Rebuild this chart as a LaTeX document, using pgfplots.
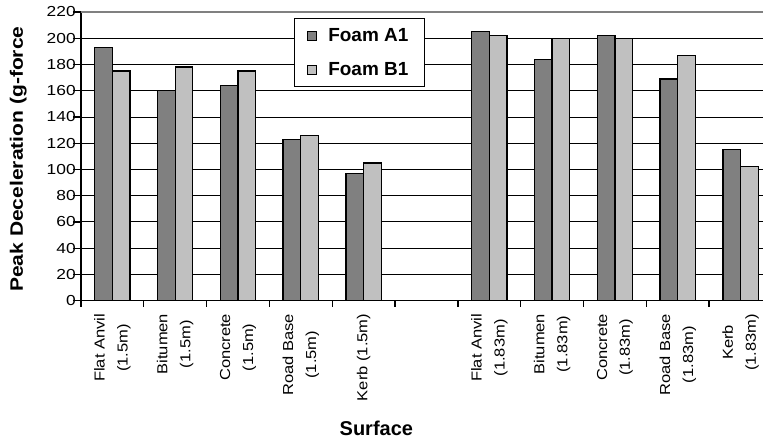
\documentclass[border=0pt]{standalone}
\usepackage{fontspec}
\setmainfont{Liberation Sans}
\newfontfamily\ylfont[FakeStretch=1.17]{Liberation Sans}
\newfontfamily\xtfont[FakeStretch=1.14]{Liberation Sans}
\newfontfamily\ytfont[FakeStretch=1.2]{Liberation Sans}
\usepackage{pgfplots}
\pgfplotsset{compat=1.18}
\definecolor{darkbar}{HTML}{808080}
\definecolor{lightbar}{HTML}{C0C0C0}
\begin{document}
\begin{tikzpicture}
\begin{axis}[
  at={(0,0)}, anchor=south west,
  scale only axis,
  width=683pt, height=289pt,
  xmin=-0.5, xmax=10.36,
  ymin=0, ymax=220,
  ybar=0pt, bar width=17.7pt,
  axis x line*=bottom, axis y line*=left,
  axis line style={line width=1.6pt, -},
  ytick={0,20,...,220},
  ymajorgrids,
  major grid style={black, line width=0.9pt},
  extra y ticks={180,200},
  extra y tick labels={},
  extra y tick style={grid style={black, line width=1.9pt}},
  xtick={0,...,10},
  xticklabels={{Flat Anvil\\(1.5m)},{Bitumen\\(1.5m)},{Concrete\\(1.5m)},{Road Base\\(1.5m)},{Kerb (1.5m)},{},{Flat Anvil\\(1.83m)},{Bitumen\\(1.83m)},{Concrete\\(1.83m)},{Road Base\\(1.83m)},{Kerb\\(1.83m)}},
  minor xtick={-0.5,0.5,...,9.5},
  tick align=outside,
  major tick length=8pt,
  x tick style={draw=none},
  minor tick length=6pt,
  minor x tick style={draw=black, line width=1.4pt},
  y tick style={black, line width=1.2pt},
  /pgf/number format/assume math mode=true,
  yticklabel style={font=\ytfont\fontsize{14.5}{18}\selectfont, inner sep=0pt, xshift=3pt},
  xticklabel style={font=\xtfont\fontsize{14.5}{23}\selectfont, rotate=90, anchor=east, align=center, inner sep=0pt, xshift=-5pt},
  xlabel={Surface},
  xlabel style={font=\bfseries\fontsize{20}{24}\selectfont, at={(axis description cs:0.433,-0.441)}, anchor=center},
  ylabel={Peak Deceleration (g-force},
  ylabel style={font=\ylfont\bfseries\fontsize{18}{22}\selectfont, at={(axis description cs:-0.092,0.49)}, anchor=center},
  legend style={at={(axis description cs:0.312,0.979)}, anchor=north west, draw=black, line width=1.3pt, fill=white,
    font=\bfseries\fontsize{19}{22}\selectfont, inner xsep=13pt, inner ysep=6.5pt, row sep=14pt, column sep=8pt,
    nodes={inner sep=3pt}},
  legend cell align=left,
  legend image code/.code={\draw[#1, line width=0.9pt] (0pt,-4.5pt) rectangle (9pt,4.5pt);},
]
\addplot[fill=darkbar, draw=black, line width=1.3pt] coordinates {(0,193) (1,160) (2,164) (3,123) (4,97) (6,205) (7,184) (8,202) (9,169) (10,115)};
\addplot[fill=lightbar, draw=black, line width=1.3pt] coordinates {(0,175) (1,178) (2,175) (3,126) (4,105) (6,202) (7,200) (8,200) (9,187) (10,102)};
\legend{Foam A1, Foam B1}
\draw[gray, line width=1.6pt] (rel axis cs:0,1) -- (rel axis cs:1,1);
\end{axis}
\path[use as bounding box] (-81pt,-140pt) rectangle (683pt,301pt);
\end{tikzpicture}
\end{document}
